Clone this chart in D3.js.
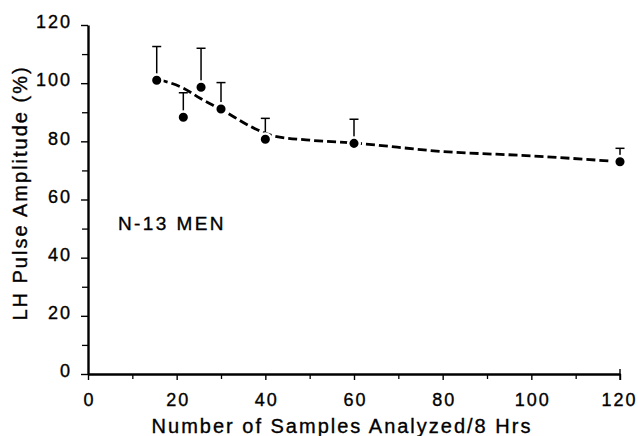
<!DOCTYPE html>
<html>
<head>
<meta charset="utf-8">
<script src="https://cdn.jsdelivr.net/npm/d3@7"></script>
<style>
  body { margin: 0; background: #fff; }
  svg { display: block; }
  text { font-family: "Liberation Sans", Arial, Helvetica, sans-serif; fill: #000; stroke: #000; stroke-width: 0.35px; }
</style>
</head>
<body>
<svg id="svg" width="638" height="436"></svg>
<script>
// samples per 8 h, mean LH amplitude (%), top of SEM bar
const sampleX = [15.5, 21.5, 25.5, 30, 40, 60, 120];
const meanPct = [101, 88.3, 98.6, 91.1, 80.7, 79.3, 73];
const semTop = [112.6, 96.7, 112, 100.2, 87.9, 87.6, 77.6];
// dashed fitted curve
const fitX = [16, 21.5, 25.3, 30, 38.3, 42, 50, 60, 80, 100, 118];
const fitY = [101.2, 98.3, 94.8, 91, 83.9, 81.8, 80.4, 79.4, 76.5, 75, 73.2];
const xTicks = [0, 20, 40, 60, 80, 100, 120];
const yTicks = [0, 20, 40, 60, 80, 100, 120];
const xMinor = [10, 30, 50, 70, 90, 110];
const yMinor = [10, 30, 50, 70, 90, 110];

const svg = d3.select('#svg');
const x = d3.scaleLinear().domain([0, 120]).range([88, 620]);
const y = d3.scaleLinear().domain([0, 120]).range([374, 25]);

// minor ticks
svg.append('g')
    .attr('transform', 'translate(0,374)')
    .call(d3.axisBottom(x).tickValues(xMinor).tickSize(5).tickFormat('').tickSizeOuter(0))
    .call(g => g.select('.domain').remove())
    .selectAll('line').attr('stroke', '#000').attr('stroke-width', 1.3);
svg.append('g')
    .attr('transform', 'translate(88,0)')
    .call(d3.axisLeft(y).tickValues(yMinor).tickSize(6).tickFormat('').tickSizeOuter(0))
    .call(g => g.select('.domain').remove())
    .selectAll('line').attr('stroke', '#000').attr('stroke-width', 1.3);

// x axis
const xa = svg.append('g')
    .attr('transform', 'translate(0,374)')
    .call(d3.axisBottom(x).tickValues(xTicks).tickSize(6).tickSizeOuter(0).tickPadding(13));
xa.select('.domain').attr('stroke', '#000').attr('stroke-width', 2.4);
xa.selectAll('line').attr('stroke', '#000').attr('stroke-width', 1.4);
xa.selectAll('text')
    .attr('font-size', 18)
    .attr('letter-spacing', 2)
    .attr('dx', 1)
    .attr('fill', '#000');
xa.selectAll('.tick').filter(d => d === 120).select('text').attr('dx', -1);
// end tick at 120 crossing the axis
svg.append('line')
    .attr('x1', x(120)).attr('x2', x(120))
    .attr('y1', 369).attr('y2', 380)
    .attr('stroke', '#000').attr('stroke-width', 1.4);

// y axis
const ya = svg.append('g')
    .attr('transform', 'translate(88,0)')
    .call(d3.axisLeft(y).tickValues(yTicks).tickSize(7).tickSizeOuter(0).tickPadding(9));
ya.select('.domain').attr('stroke', '#000').attr('stroke-width', 2.4);
ya.selectAll('line').attr('stroke', '#000').attr('stroke-width', 1.4);
ya.selectAll('text')
    .attr('font-size', 18)
    .attr('letter-spacing', 2)
    .attr('dy', '0.15em')
    .attr('fill', '#000');

// axis titles
svg.append('text')
    .attr('x', 342).attr('y', 433)
    .attr('text-anchor', 'middle')
    .attr('font-size', 20)
    .attr('letter-spacing', 2)
    .text('Number of Samples Analyzed/8 Hrs');
svg.append('text')
    .attr('transform', 'translate(27,193) rotate(-90)')
    .attr('text-anchor', 'middle')
    .attr('font-size', 20)
    .attr('letter-spacing', 2)
    .text('LH Pulse Amplitude (%)');

// note
svg.append('text')
    .attr('x', 118).attr('y', 230)
    .attr('font-size', 19)
    .attr('letter-spacing', 2.4)
    .text('N-13 MEN');

// fitted dashed curve
const line = d3.line()
    .x((d, i) => x(fitX[i]))
    .y(d => y(d))
    .curve(d3.curveMonotoneX);
svg.append('path')
    .datum(fitY)
    .attr('d', line)
    .attr('fill', 'none')
    .attr('stroke', '#000')
    .attr('stroke-width', 2.8)
    .attr('stroke-dasharray', '9,4');

// error bars
const pts = sampleX.map((v, i) => ({ x: v, m: meanPct[i], top: semTop[i] }));
svg.selectAll('.err')
    .data(pts)
    .enter()
    .append('line')
    .attr('class', 'err')
    .attr('x1', d => x(d.x)).attr('x2', d => x(d.x))
    .attr('y1', d => y(d.m)).attr('y2', d => y(d.top))
    .attr('stroke', '#000').attr('stroke-width', 1.5);
svg.selectAll('.cap')
    .data(pts)
    .enter()
    .append('line')
    .attr('class', 'cap')
    .attr('x1', d => x(d.x) - 4.5).attr('x2', d => x(d.x) + 4.5)
    .attr('y1', d => y(d.top)).attr('y2', d => y(d.top))
    .attr('stroke', '#000').attr('stroke-width', 1.5);

// points with a white halo so the dashes break around them
svg.selectAll('.pt')
    .data(pts)
    .enter()
    .append('circle')
    .attr('class', 'pt')
    .attr('cx', d => x(d.x))
    .attr('cy', d => y(d.m))
    .attr('r', 5.8)
    .attr('fill', '#000')
    .attr('stroke', '#fff')
    .attr('stroke-width', 2.5);
</script>
</body>
</html>
